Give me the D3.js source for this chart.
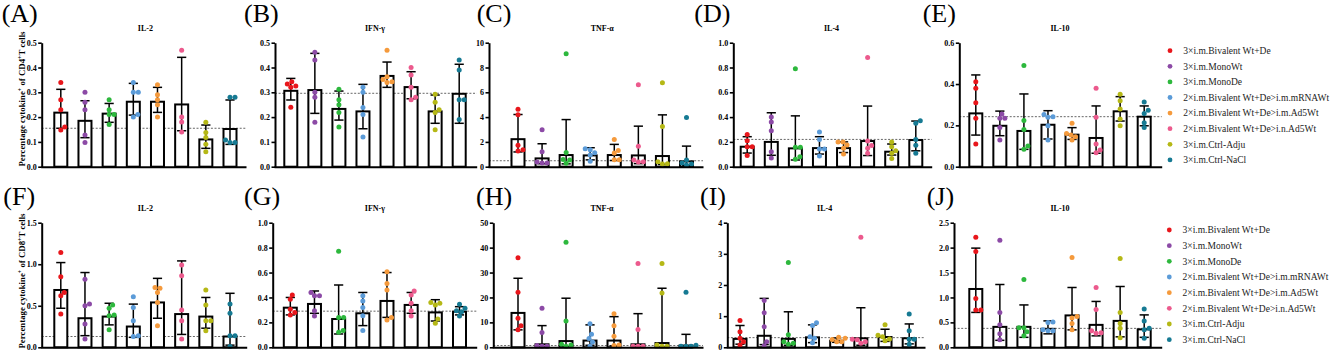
<!DOCTYPE html>
<html><head><meta charset="utf-8">
<script src="https://cdn.jsdelivr.net/npm/d3@7"></script>
<style>
body{margin:0;background:#fff;}
svg{display:block;}
text{font-family:"Liberation Serif","Times New Roman",serif;}
</style></head><body>
<svg id="c" width="1333" height="355"></svg>
<script>
// ---------------- DATA ----------------
const groups = ["3×i.m.Bivalent Wt+De","3×i.m.MonoWt","3×i.m.MonoDe","2×i.m.Bivalent Wt+De>i.m.mRNAWt",
  "2×i.m.Bivalent Wt+De>i.m.Ad5Wt","2×i.m.Bivalent Wt+De>i.n.Ad5Wt","3×i.m.Ctrl-Adju","3×i.m.Ctrl-NaCl"];
const groupColors = ["#e8161b","#8c4aa6","#2db83d","#5b9bd8","#f59a3c","#ec5a8d","#b5b816","#167a93"];
const cytokines = ["IL-2","IFN-γ","TNF-α","IL-4","IL-10"];
const panelLetters = ["A","B","C","D","E","F","G","H","I","J"];

// CD4+ row
const ticksA = ["0.0","0.1","0.2","0.3","0.4","0.5"];
const A_mean = [.218,.185,.214,.262,.262,.251,.11,.152];
const A_hi = [.312,.266,.255,.336,.32,.441,.168,.269];
const A_lo = [.155,.117,.179,.208,.219,.145,.074,.09];
const A_pts = [[.34,.27,.23,.16,.148],[.30,.26,.23,.128,.098],[.27,.23,.21,.21,.17],[.34,.30,.30,.21,.20],[.33,.29,.27,.25,.20],[.47,.20,.18,.14],[.179,.138,.118,.091,.06],[.28,.28,.108,.098,.098]];
const A_ref = .155;

const ticksB = ["0.0","0.1","0.2","0.3","0.4","0.5"];
const B_mean = [.306,.309,.233,.223,.366,.321,.223,.294];
const B_hi = [.356,.457,.305,.332,.422,.383,.289,.413];
const B_lo = [.269,.215,.188,.153,.32,.274,.175,.175];
const B_pts = [[.343,.333,.325,.32,.24],[.461,.43,.30,.28,.179],[.312,.27,.25,.219,.16],[.32,.30,.239,.21,.12],[.47,.363,.352,.343,.34],[.40,.37,.32,.28,.27],[.292,.26,.23,.219,.149],[.43,.39,.27,.27,.19]];
const B_ref = .296;

const ticksC = ["0","2","4","6","8","10"];
const C_mean = [2.22,.67,.94,.91,.94,.91,.86,.43];
const C_hi = [4.21,1.85,3.8,1.53,1.8,3.27,4.18,1.66];
const C_lo = [1.19,.24,.23,.55,.5,.25,.18,.11];
const C_pts = [[4.64,4.18,1.72,1.37,1.26],[2.98,1.2,.38,.3,.3],[9.1,1.15,.59,.54,.27],[1.45,1.37,1.13,.94,.43],[2.2,1.31,1.1,.56,.56],[6.6,1.64,.54,.4,.38],[6.78,3.24,.4,.24,.21],[3.97,.54,.29,.21,.13]];
const C_ref = .48;

const ticksD = ["0.0","0.2","0.4","0.6","0.8","1.0"];
const D_mean = [.161,.2,.148,.15,.15,.207,.121,.215];
const D_hi = [.242,.435,.41,.242,.2,.489,.183,.368];
const D_lo = [.11,.092,.054,.102,.114,.09,.094,.128];
const D_pts = [[.26,.21,.16,.16,.09],[.40,.36,.29,.12,.07],[.79,.156,.156,.08,.06],[.28,.22,.142,.142,.086],[.2,.2,.175,.148,.102],[.88,.207,.17,.148,.108],[.2,.161,.129,.108,.067],[.37,.35,.22,.172,.108]];
const D_ref = .22;

const ticksE = ["0.0","0.2","0.4","0.6"];
const E_mean = [.258,.198,.173,.203,.155,.139,.268,.242];
const E_hi = [.444,.269,.352,.271,.189,.294,.339,.294];
const E_lo = [.153,.15,.084,.134,.132,.065,.221,.198];
const E_pts = [[.411,.379,.31,.234,.11],[.255,.234,.234,.19,.129],[.49,.223,.18,.10,.085],[.253,.242,.239,.198,.129],[.21,.161,.153,.145,.129],[.379,.239,.11,.081,.068],[.35,.319,.279,.231,.198],[.313,.273,.258,.213,.19]];
const E_ref = .242;

// CD8+ row
const ticksF = ["0.0","0.5","1.0","1.5"];
const F_mean = [.69,.35,.37,.25,.54,.40,.37,.13];
const F_hi = [1.02,.9,.53,.52,.83,1.04,.60,.65];
const F_lo = [.47,.14,.27,.12,.35,.155,.23,.026];
const F_pts = [[1.14,.85,.66,.62,.40],[.82,.52,.50,.28,.10],[.51,.47,.39,.38,.21],[.61,.48,.32,.14,.13],[.72,.71,.66,.54,.26],[.99,.86,.45,.32,.10],[.69,.51,.32,.32,.20],[.52,.41,.14,.14,.01]];
const F_ref = .13;

const ticksG = ["0.0","0.2","0.4","0.6","0.8","1.0"];
const G_mean = [.318,.348,.227,.273,.372,.34,.28,.286];
const G_hi = [.40,.452,.50,.44,.60,.44,.382,.326];
const G_lo = [.26,.273,.107,.174,.24,.273,.211,.26];
const G_pts = [[.42,.385,.305,.28,.26],[.44,.414,.414,.294,.251],[.77,.24,.24,.134,.12],[.414,.372,.32,.254,.134],[.607,.513,.46,.24,.22],[.452,.42,.353,.294,.251],[.36,.353,.34,.227,.193],[.345,.313,.294,.286,.251]];
const G_ref = .29;

const ticksH = ["0","10","20","30","40","50"];
const H_mean = [13.8,1.2,2.5,2.7,2.7,1.2,1.7,.7];
const H_hi = [27.7,8.7,19.7,9.0,12.3,13.5,23.7,5.2];
const H_lo = [7.0,.17,.32,.81,.59,.11,.12,.09];
const H_pts = [[35.9,22.1,11.7,8.6,7.0],[15.7,5.9,.7,.4,.4],[42.2,10.6,1.2,.9,.4],[9.5,5.2,3.5,2.1,.4],[13.5,8.6,4.4,.9,.7],[33.6,7.1,.4,.4,.4],[33.6,21.8,.9,.4,.4],[22.1,.8,.4,.4,.4]];
const H_ref = .7;

const ticksI = ["0","1","2","3","4"];
const I_mean = [.27,.37,.27,.32,.21,.29,.33,.29];
const I_hi = [.7,1.57,1.14,.72,.30,1.27,.58,.75];
const I_lo = [.10,.087,.064,.15,.16,.066,.19,.11];
const I_pts = [[.86,.50,.29,.18,.07],[1.5,1.11,.66,.18,.05],[2.72,.40,.18,.13,.10],[.79,.70,.34,.29,.15],[.32,.29,.25,.18,.18],[3.53,.26,.24,.18,.13],[.72,.39,.34,.27,.21],[1.07,.53,.26,.26,.10]];
const I_ref = .31;

const ticksJ = ["0.0","0.5","1.0","1.5","2.0","2.5"];
const J_mean = [1.17,.41,.41,.37,.64,.45,.53,.36];
const J_hi = [1.99,1.26,.85,.53,1.20,.92,1.22,.65];
const J_lo = [.70,.14,.20,.27,.35,.23,.21,.2];
const J_pts = [[2.21,1.92,.98,.75,.75],[2.15,.70,.45,.27,.15],[1.36,.39,.39,.31,.23],[.51,.50,.35,.33,.33],[1.80,.62,.59,.48,.35],[1.20,.76,.33,.29,.28],[1.78,.70,.48,.38,.19],[.77,.53,.38,.35,.18]];
const J_ref = .38;

// ---------------- LAYOUT ----------------
const rowTop = [42.7, 222.7], rowBottom = [166.7, 347.3];
const axisX = [[41.7,275,489,733.3,959.3],[41.7,272.7,493.3,727.3,954]];
const axisEnd = [[246,476.7,703,931.7,1161.7],[246.7,476.7,703,925,1161.7]];
const firstC = [[60.8,290.8,518,747.2,975.8],[60.8,290.3,518,740,975.8]];
const lastC = [[230,459.2,686.5,915.8,1144.2],[230,459.5,686,909.2,1144.2]];
const labelX = [[1.7,244,476.7,694.3,922.7],[3.3,244,476,700,926.7]];
const labelBase = [21.5, 204.5];
const titleBase = [30.7, 210.7];
const legendX = [1170, 1169.3], legendY0 = [50.7, 230], legendDY = [15.6, 15.67];

const panelData = [
  [ticksA,A_mean,A_hi,A_lo,A_pts,A_ref],[ticksB,B_mean,B_hi,B_lo,B_pts,B_ref],[ticksC,C_mean,C_hi,C_lo,C_pts,C_ref],
  [ticksD,D_mean,D_hi,D_lo,D_pts,D_ref],[ticksE,E_mean,E_hi,E_lo,E_pts,E_ref],
  [ticksF,F_mean,F_hi,F_lo,F_pts,F_ref],[ticksG,G_mean,G_hi,G_lo,G_pts,G_ref],[ticksH,H_mean,H_hi,H_lo,H_pts,H_ref],
  [ticksI,I_mean,I_hi,I_lo,I_pts,I_ref],[ticksJ,J_mean,J_hi,J_lo,J_pts,J_ref]
];

const svg = d3.select("#c");
const R = 2.5, BW = 15, CAP = 4.6;

function swarm(vals, cx, y) {
  const placed = [];
  const order = vals.map((v,i)=>({v,i})).sort((a,b)=>a.v-b.v);
  const out = [];
  for (const o of order) {
    const py = y(o.v);
    let dx = 0;
    for (let k=0;k<60;k++){
      const cands = k===0?[0]:[k*0.5,-k*0.5];
      let found = null;
      for (const c of cands){
        if (placed.every(p=>Math.hypot(p.x-(cx+c), p.y-py) >= 2*R*0.95)) { found=c; break; }
      }
      if (found!==null){ dx=found; break; }
    }
    const p = {x:cx+dx, y:py, i:o.i};
    placed.push(p); out.push(p);
  }
  return out;
}

panelData.forEach((pd, pi) => {
  const [ticks, mean, hi, lo, pts, ref] = pd;
  const row = pi < 5 ? 0 : 1, col = pi % 5;
  const g = svg.append("g");
  const tv = ticks.map(Number);
  const y = d3.scaleLinear().domain([0, d3.max(tv)]).range([rowBottom[row], rowTop[row]]);
  const x = d3.scalePoint().domain(d3.range(8)).range([firstC[row][col], lastC[row][col]]);
  const ax = axisX[row][col], ae = axisEnd[row][col];

  // reference dotted line
  g.append("line").attr("x1", ax).attr("x2", ae).attr("y1", y(ref)).attr("y2", y(ref))
    .attr("stroke","#666").attr("stroke-width",1).attr("stroke-dasharray","2,1.6");

  // bars
  g.selectAll("rect.bar").data(mean).join("rect")
    .attr("x",(d,i)=>x(i)-BW/2+1).attr("width",BW-2)
    .attr("y",d=>y(d)).attr("height",d=>Math.max(0,y(0)-y(d)))
    .attr("fill","#fff").attr("stroke","#000").attr("stroke-width",2);

  // error bars
  mean.forEach((m, gi) => {
    const cx = x(gi);
    const eg = g.append("g").attr("stroke","#000").attr("stroke-width",1.5).attr("fill","none");
    eg.append("line").attr("x1",cx).attr("x2",cx).attr("y1",y(hi[gi])).attr("y2",y(lo[gi]));
    eg.append("line").attr("x1",cx-CAP).attr("x2",cx+CAP).attr("y1",y(hi[gi])).attr("y2",y(hi[gi]));
    eg.append("line").attr("x1",cx-CAP).attr("x2",cx+CAP).attr("y1",y(lo[gi])).attr("y2",y(lo[gi]));
  });

  // points (drawn on top)
  pts.forEach((arr, gi) => {
    const sw = swarm(arr, x(gi), y);
    g.selectAll(null).data(sw).join("circle")
      .attr("cx",d=>d.x).attr("cy",d=>d.y).attr("r",R).attr("fill",groupColors[gi]);
  });

  // y axis
  const ya = g.append("g").attr("transform",`translate(${ax},0)`)
    .call(d3.axisLeft(y).tickValues(tv).tickFormat((d,i)=>ticks[i]).tickSize(3.5).tickSizeOuter(0).tickPadding(1.5));
  ya.select(".domain").attr("stroke-width",2);
  ya.selectAll(".tick line").attr("stroke-width",1.6);
  ya.selectAll("text").attr("font-family","'Liberation Serif',serif").attr("font-weight","bold").attr("font-size","8px").attr("fill","#000");

  // x axis
  const xs = d3.scaleLinear().domain([0,1]).range([ax-1, ae]);
  const xa = g.append("g").attr("transform",`translate(0,${y(0)})`)
    .call(d3.axisBottom(xs).tickValues([]).tickSizeOuter(0));
  xa.select(".domain").attr("stroke-width",2);

  // title
  g.append("text").attr("x",(firstC[row][col]+lastC[row][col])/2).attr("y",titleBase[row])
    .attr("text-anchor","middle").attr("font-weight","bold").attr("font-size","8px").text(cytokines[col]);

  // panel letter
  g.append("text").attr("x",labelX[row][col]).attr("y",labelBase[row])
    .attr("font-family","'Liberation Sans',Arial,sans-serif").attr("font-size","26px").text(`(${panelLetters[pi]})`);
});

// y-axis titles
[["CD4",99],["CD8",281]].forEach(([cd, cy]) => {
  const t = svg.append("text").attr("transform",`translate(24.5,${cy}) rotate(-90)`)
    .attr("text-anchor","middle").attr("font-weight","bold").attr("font-size","8.8px");
  t.append("tspan").text("Percentage cytokine");
  t.append("tspan").attr("baseline-shift","super").attr("font-size","6px").text("+");
  t.append("tspan").text(` of ${cd}`);
  t.append("tspan").attr("baseline-shift","super").attr("font-size","6px").text("+");
  t.append("tspan").text("T cells");
});

// legends
[0,1].forEach(row => {
  const lg = svg.append("g");
  groups.forEach((name, i) => {
    const yy = legendY0[row] + i*legendDY[row];
    lg.append("circle").attr("cx",legendX[row]).attr("cy",yy).attr("r",2.4).attr("fill",groupColors[i]);
    lg.append("text").attr("x",legendX[row]+13.3).attr("y",yy+3.3).attr("font-size","9.5px").attr("fill","#222").text(name);
  });
});
</script>
</body></html>
